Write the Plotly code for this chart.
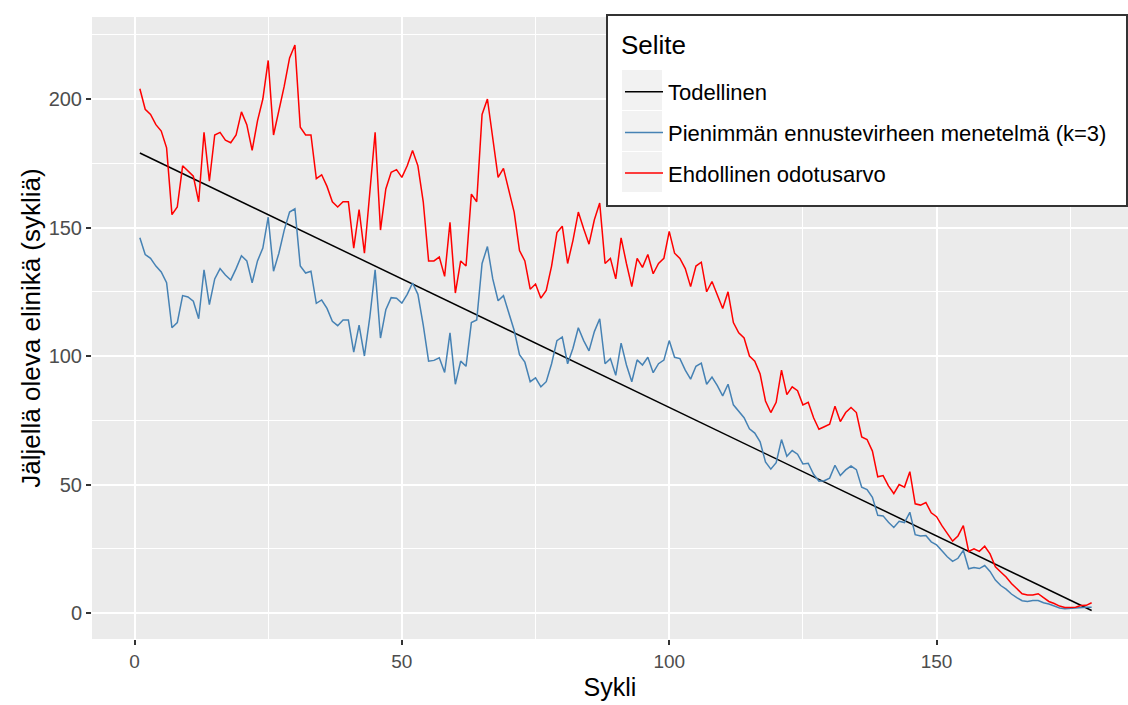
import plotly.graph_objects as go

sykli = list(range(1, 180))

todellinen = [
    179, 178, 177, 176, 175, 174, 173, 172, 171, 170, 169, 168, 167, 166, 165, 164, 163, 162, 161, 160,
    159, 158, 157, 156, 155, 154, 153, 152, 151, 150, 149, 148, 147, 146, 145, 144, 143, 142, 141, 140,
    139, 138, 137, 136, 135, 134, 133, 132, 131, 130, 129, 128, 127, 126, 125, 124, 123, 122, 121, 120,
    119, 118, 117, 116, 115, 114, 113, 112, 111, 110, 109, 108, 107, 106, 105, 104, 103, 102, 101, 100,
    99, 98, 97, 96, 95, 94, 93, 92, 91, 90, 89, 88, 87, 86, 85, 84, 83, 82, 81, 80,
    79, 78, 77, 76, 75, 74, 73, 72, 71, 70, 69, 68, 67, 66, 65, 64, 63, 62, 61, 60,
    59, 58, 57, 56, 55, 54, 53, 52, 51, 50, 49, 48, 47, 46, 45, 44, 43, 42, 41, 40,
    39, 38, 37, 36, 35, 34, 33, 32, 31, 30, 29, 28, 27, 26, 25, 24, 23, 22, 21, 20,
    19, 18, 17, 16, 15, 14, 13, 12, 11, 10, 9, 8, 7, 6, 5, 4, 3, 2, 1,
]

pienimman = [
    146, 139.5, 138, 135, 132.7, 128.5, 111, 113, 123.5, 123,
    121.3, 114.5, 133.5, 120, 130, 134, 131.5, 129.6, 134, 139,
    137, 128.5, 137, 142, 154, 133, 140, 149, 156, 157.3,
    135, 132.3, 133, 120.5, 121.8, 118.5, 113.5, 111.8, 114, 114,
    101.5, 112, 100, 115, 133.5, 107, 118, 122.7, 122.5, 120.6,
    124, 128.4, 124, 112, 98, 98.3, 99.3, 93.6, 109, 89,
    98, 96, 113, 114, 136, 142.6, 130, 121.5, 123.5, 117,
    110, 100.5, 97.6, 90, 91.5, 88, 90, 97, 106, 107.4,
    97, 103, 111, 106, 102, 109.5, 114.5, 97, 99, 92.5,
    105, 96.5, 90, 98.5, 96.5, 99.5, 93.5, 97, 98.4, 106,
    99.5, 99, 94.5, 91, 96, 97.2, 89, 91.8, 88.5, 84.5,
    89, 81, 78.5, 76, 71.7, 70, 66.6, 58.8, 56, 58.5,
    67.5, 61, 63.2, 61.8, 58, 58.3, 54, 51.3, 51.5, 52.5,
    57.5, 53.5, 55.7, 57.2, 55.8, 49, 48, 45, 38, 37.8,
    35.3, 33.3, 35.7, 35.2, 39.2, 30.5, 30, 30.2, 27.7, 26.5,
    24.2, 21.9, 20.1, 21.3, 24.4, 17.2, 17.7, 17.3, 18.5, 16.2,
    12.8, 10.7, 9.3, 7.4, 6, 4.8, 4.5, 4.9, 4.9, 4,
    3.5, 2.8, 2, 1.7, 1.9, 1.9, 2.3, 2.3, 2.3,
]

ehdollinen = [
    204, 196, 194, 190, 187.5, 181, 155, 158, 174, 172,
    170, 160, 187, 168, 186, 187, 184, 183, 186, 195,
    190, 180, 191.5, 200, 215, 186, 195, 205, 216, 221,
    189, 186, 186, 169, 170.5, 166, 160, 158, 160, 160,
    142, 157, 140, 163, 187, 149, 165, 171.5, 172.5, 169.5,
    174, 180, 174, 160, 137, 137, 138.5, 131, 152, 124.5,
    137, 135, 163, 160, 194, 200, 184, 169.5, 173, 164,
    156, 141, 137, 126, 128, 122.5, 125.5, 135, 148, 150.5,
    136, 145, 156, 149.5, 143.5, 153, 159.5, 136, 138, 130,
    146, 136, 127, 138, 134.5, 139.5, 132, 136, 138, 148.5,
    140, 138, 134, 127, 135, 136.5, 125, 129, 124, 118.5,
    125, 113, 109, 107, 100, 98, 93, 82.5, 78, 82,
    94.5, 85, 88, 86.5, 81, 82, 76, 71.5, 72.5, 73.5,
    80.5, 74.5, 78, 80, 78, 68.5, 67.5, 63, 53, 53.5,
    49.5, 46.5, 50, 49, 55, 42.5, 42, 43, 39, 37.5,
    34, 31, 28, 30, 34, 24, 25, 24, 26, 23,
    18, 16, 14, 11.5, 9.5, 7.5, 7, 7, 7.5, 6,
    4.5, 3.7, 2.7, 2.2, 2.3, 2.3, 2.9, 3, 4,
]

x_ticks = [0, 50, 100, 150]
y_ticks = [0, 50, 100, 150, 200]

FONT = "Liberation Sans, Arial, sans-serif"

fig = go.Figure()
fig.add_trace(go.Scatter(x=sykli, y=todellinen, mode="lines", name="Todellinen",
                         legendgroup="a", line=dict(color="black", width=1.5)))
fig.add_trace(go.Scatter(x=sykli, y=pienimman, mode="lines",
                         name="Pienimmän ennustevirheen menetelmä (k=3)",
                         legendgroup="b", line=dict(color="steelblue", width=1.5)))
fig.add_trace(go.Scatter(x=sykli, y=ehdollinen, mode="lines", name="Ehdollinen odotusarvo",
                         legendgroup="c", line=dict(color="red", width=1.5)))

# plot-area pixel geometry helpers (for legend decoration in paper coords)
L, R, T, B = 92, 1128, 17, 639
def px(v):
    return (v - L) / (R - L)
def py(v):
    return (B - v) / (B - T)

shapes = [
    dict(type="rect", xref="paper", yref="paper", x0=px(607), x1=px(1127), y0=py(206), y1=py(15),
         fillcolor="white", line=dict(color="#333333", width=2), layer="above"),
]
for top in [70, 111, 152]:
    shapes.append(dict(type="rect", xref="paper", yref="paper", x0=px(622), x1=px(662),
                       y0=py(top + 40), y1=py(top), fillcolor="#F2F2F2",
                       line=dict(width=0), layer="above"))

fig.update_layout(
    width=1128, height=705,
    margin=dict(l=L, r=1128 - R, t=T, b=705 - B),
    paper_bgcolor="white", plot_bgcolor="#EBEBEB",
    font=dict(family=FONT, size=20, color="black"),
    showlegend=True,
    legend=dict(
        x=px(620), y=py(71), xanchor="left", yanchor="top",
        bgcolor="rgba(0,0,0,0)", borderwidth=0,
        font=dict(size=22, color="black"),
        tracegroupgap=9, itemwidth=38,
    ),
    annotations=[dict(text="Selite", xref="paper", yref="paper", x=px(619), y=py(45),
                      xanchor="left", yanchor="middle", showarrow=False,
                      font=dict(size=26, color="black"))],
    shapes=shapes,
    xaxis=dict(
        range=[-7.95, 185.8], tickmode="array", tickvals=x_ticks,
        ticktext=[str(v) for v in x_ticks],
        showgrid=True, gridcolor="white", gridwidth=2,
        minor=dict(dtick=25, tick0=0, showgrid=True, gridcolor="white", gridwidth=1.1),
        zeroline=False, ticks="outside", ticklen=5, tickwidth=1.5, tickcolor="#333333",
        tickfont=dict(size=19, color="#4D4D4D"),
        title=dict(text="Sykli", font=dict(size=25, color="black"), standoff=7),
        showline=False,
    ),
    yaxis=dict(
        range=[-10.1, 231.9], tickmode="array", tickvals=y_ticks,
        ticktext=[str(v) for v in y_ticks],
        showgrid=True, gridcolor="white", gridwidth=2,
        minor=dict(dtick=25, tick0=0, showgrid=True, gridcolor="white", gridwidth=1.1),
        zeroline=False, ticks="outside", ticklen=5, tickwidth=1.5, tickcolor="#333333",
        tickfont=dict(size=20, color="#4D4D4D"),
        title=dict(text="Jäljellä oleva elinikä (sykliä)", font=dict(size=26, color="black"), standoff=0),
        showline=False,
    ),
)

fig.write_html("out.html")
